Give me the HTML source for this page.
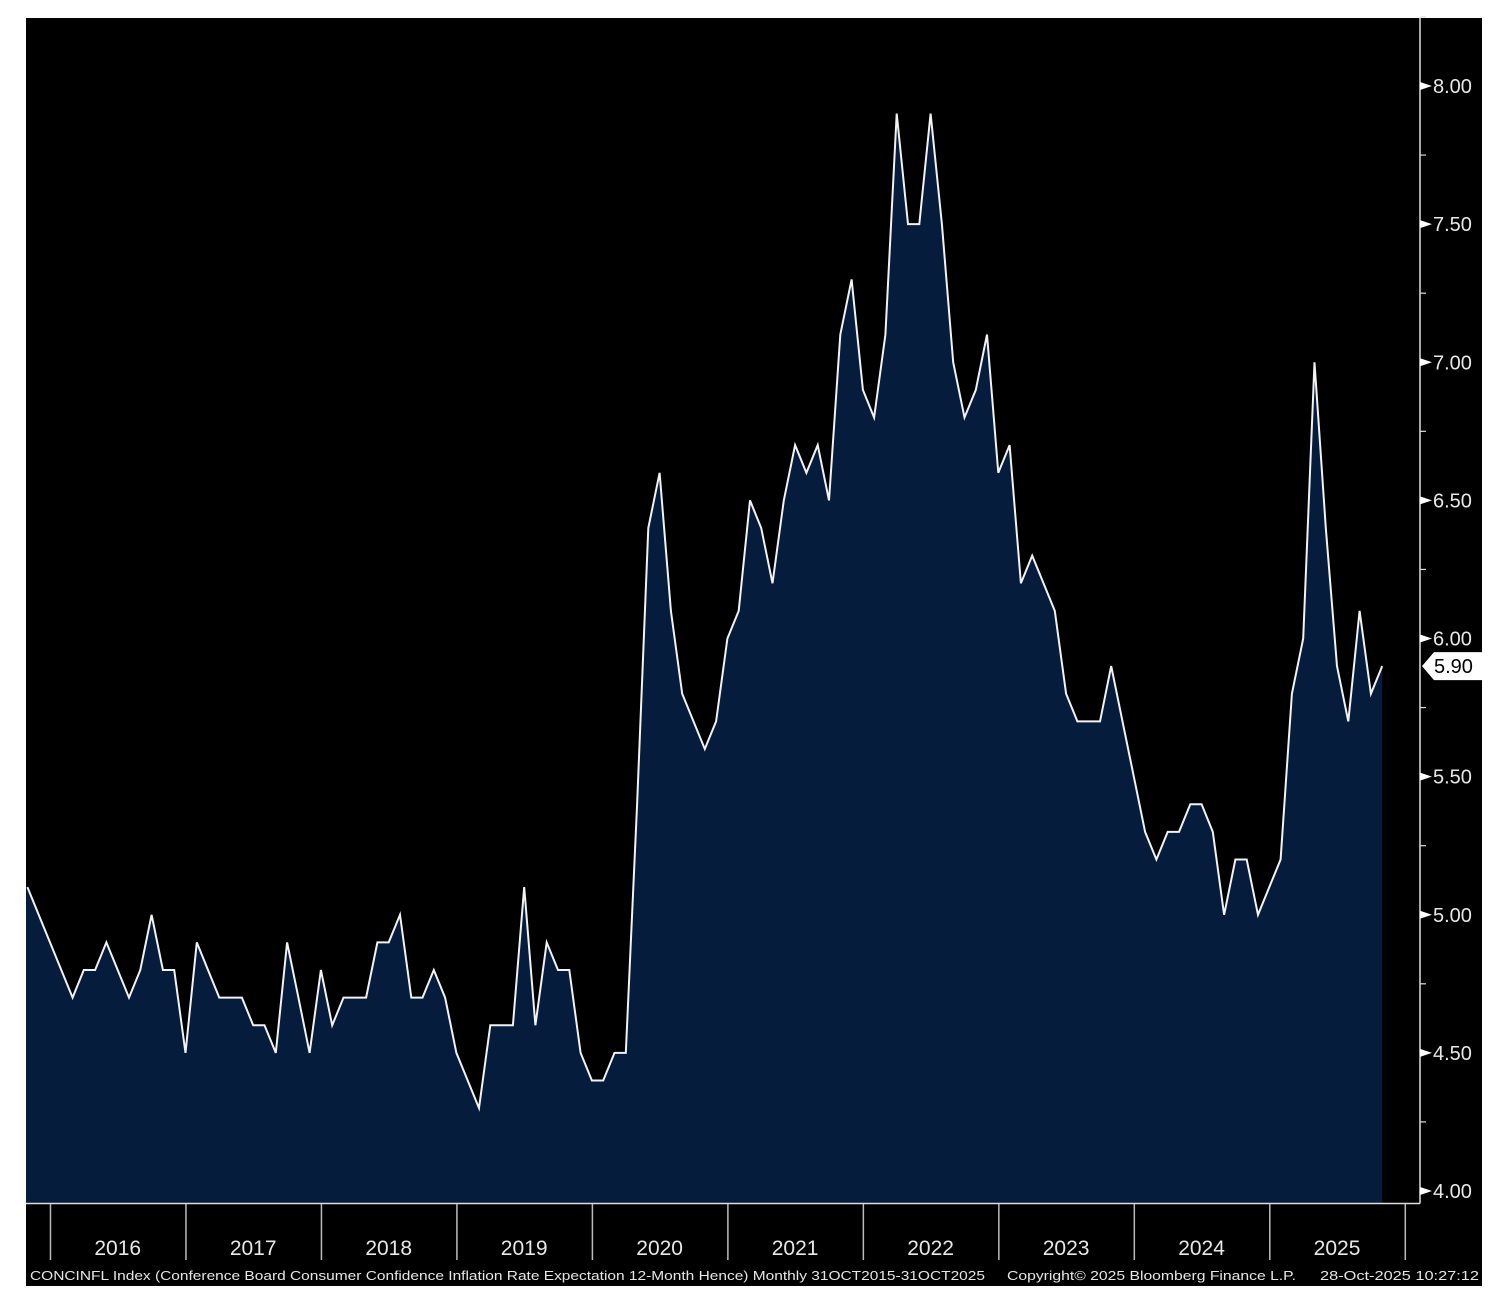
<!DOCTYPE html>
<html><head><meta charset="utf-8">
<style>
html,body{margin:0;padding:0;background:#fff;}
svg{display:block;font-family:"Liberation Sans",sans-serif;}
</style></head>
<body>
<svg id="chart" width="1494" height="1310" viewBox="0 0 1494 1310" xmlns="http://www.w3.org/2000/svg">
<rect x="26" y="18" width="1456" height="1268" fill="#000"/>
<g id="plot"></g>
<g id="yaxis"></g>
<g id="xaxis"></g>
<text x="30" y="1280" fill="#e6e6e6" font-size="13.2" textLength="955" lengthAdjust="spacingAndGlyphs">CONCINFL Index (Conference Board Consumer Confidence Inflation Rate Expectation 12-Month Hence) Monthly 31OCT2015-31OCT2025</text>
<text x="1007" y="1280" fill="#e6e6e6" font-size="13.2" textLength="289" lengthAdjust="spacingAndGlyphs">Copyright© 2025 Bloomberg Finance L.P.</text>
<text x="1320" y="1280" fill="#e6e6e6" font-size="13.2" textLength="159" lengthAdjust="spacingAndGlyphs">28-Oct-2025 10:27:12</text>
</svg>
<script>
const values = [5.1,5.0,4.9,4.8,4.7,4.8,4.8,4.9,4.8,4.7,4.8,5.0,4.8,4.8,4.5,4.9,4.8,4.7,4.7,4.7,4.6,4.6,4.5,4.9,4.7,4.5,4.8,4.6,4.7,4.7,4.7,4.9,4.9,5.0,4.7,4.7,4.8,4.7,4.5,4.4,4.3,4.6,4.6,4.6,5.1,4.6,4.9,4.8,4.8,4.5,4.4,4.4,4.5,4.5,5.4,6.4,6.6,6.1,5.8,5.7,5.6,5.7,6.0,6.1,6.5,6.4,6.2,6.5,6.7,6.6,6.7,6.5,7.1,7.3,6.9,6.8,7.1,7.9,7.5,7.5,7.9,7.5,7.0,6.8,6.9,7.1,6.6,6.7,6.2,6.3,6.2,6.1,5.8,5.7,5.7,5.7,5.9,5.7,5.5,5.3,5.2,5.3,5.3,5.4,5.4,5.3,5.0,5.2,5.2,5.0,5.1,5.2,5.8,6.0,7.0,6.4,5.9,5.7,6.1,5.8,5.9];
const yTicks = [4.0,4.5,5.0,5.5,6.0,6.5,7.0,7.5,8.0];
const yTickLabels = ["4.00","4.50","5.00","5.50","6.00","6.50","7.00","7.50","8.00"];
const years = ["2016","2017","2018","2019","2020","2021","2022","2023","2024","2025"];
const lastLabel = "5.90";

const NS="http://www.w3.org/2000/svg";
const X0=27.4, DX=11.29, Y4=1191, PX=276.25;
const x = i => X0 + i*DX;
const y = v => Y4 - (v-4)*PX;
function mk(tag, attrs, parent){const e=document.createElementNS(NS,tag);for(const k in attrs)e.setAttribute(k,attrs[k]);parent.appendChild(e);return e;}
const plot=document.getElementById('plot'), ya=document.getElementById('yaxis'), xa=document.getElementById('xaxis');

let d = values.map((v,i)=>(i?'L':'M')+x(i).toFixed(1)+' '+y(v).toFixed(1)).join(' ');
const area = mk('path',{d:d+` L${x(values.length-1).toFixed(1)} 1203 L26 1203 L26 ${y(values[0]).toFixed(1)} Z`,fill:'#061c3c'},plot);


const line = mk('path',{d:d,fill:'none',stroke:'#f2f2f2','stroke-width':2,'stroke-linejoin':'miter'},plot);



const yl = mk('line',{x1:1420,y1:18,x2:1420,y2:1203.5,stroke:'#ddd','stroke-width':1.5},ya);


const xl = mk('line',{x1:26,y1:1203.5,x2:1420,y2:1203.5,stroke:'#ddd','stroke-width':1.5},xa);



for(let v=4.0; v<=8.26; v+=0.25){
  const yy=y(v);
  const t=mk('line',{x1:1420,y1:yy,x2:1426,y2:yy,stroke:'#ddd','stroke-width':1.2},ya);
  
  
}
yTicks.forEach((v,k)=>{
  const yy=y(v);
  const tri=mk('path',{d:`M1420 ${yy-4} L1432 ${yy} L1420 ${yy+4} Z`,fill:'#fff'},ya);
  
  
  const t=mk('text',{x:1433,y:yy+7,fill:'#e8e8e8','font-size':20},ya);
  t.textContent=yTickLabels[k];
  
  
});
const lv=values[values.length-1], ly=y(lv);
const tag=mk('path',{d:`M1422 ${ly} L1434 ${ly-14} L1482 ${ly-14} L1482 ${ly+14} L1434 ${ly+14} Z`,fill:'#fff'},ya);


const tt=mk('text',{x:1434,y:ly+7,fill:'#000','font-size':20},ya);
tt.textContent=lastLabel;



for(let k=0;k<=years.length;k++){
  const xx=x(2+12*k)+0.5;
  const t=mk('line',{x1:xx,y1:1204,x2:xx,y2:1260,stroke:'#bbb','stroke-width':1.5},xa);
  
  
}
years.forEach((yr,k)=>{
  const t=mk('text',{x:x(2+12*k+6),y:1255,fill:'#e8e8e8','font-size':21,'text-anchor':'middle'},xa);
  t.textContent=yr;
  
  
});
</script>
</body></html>
